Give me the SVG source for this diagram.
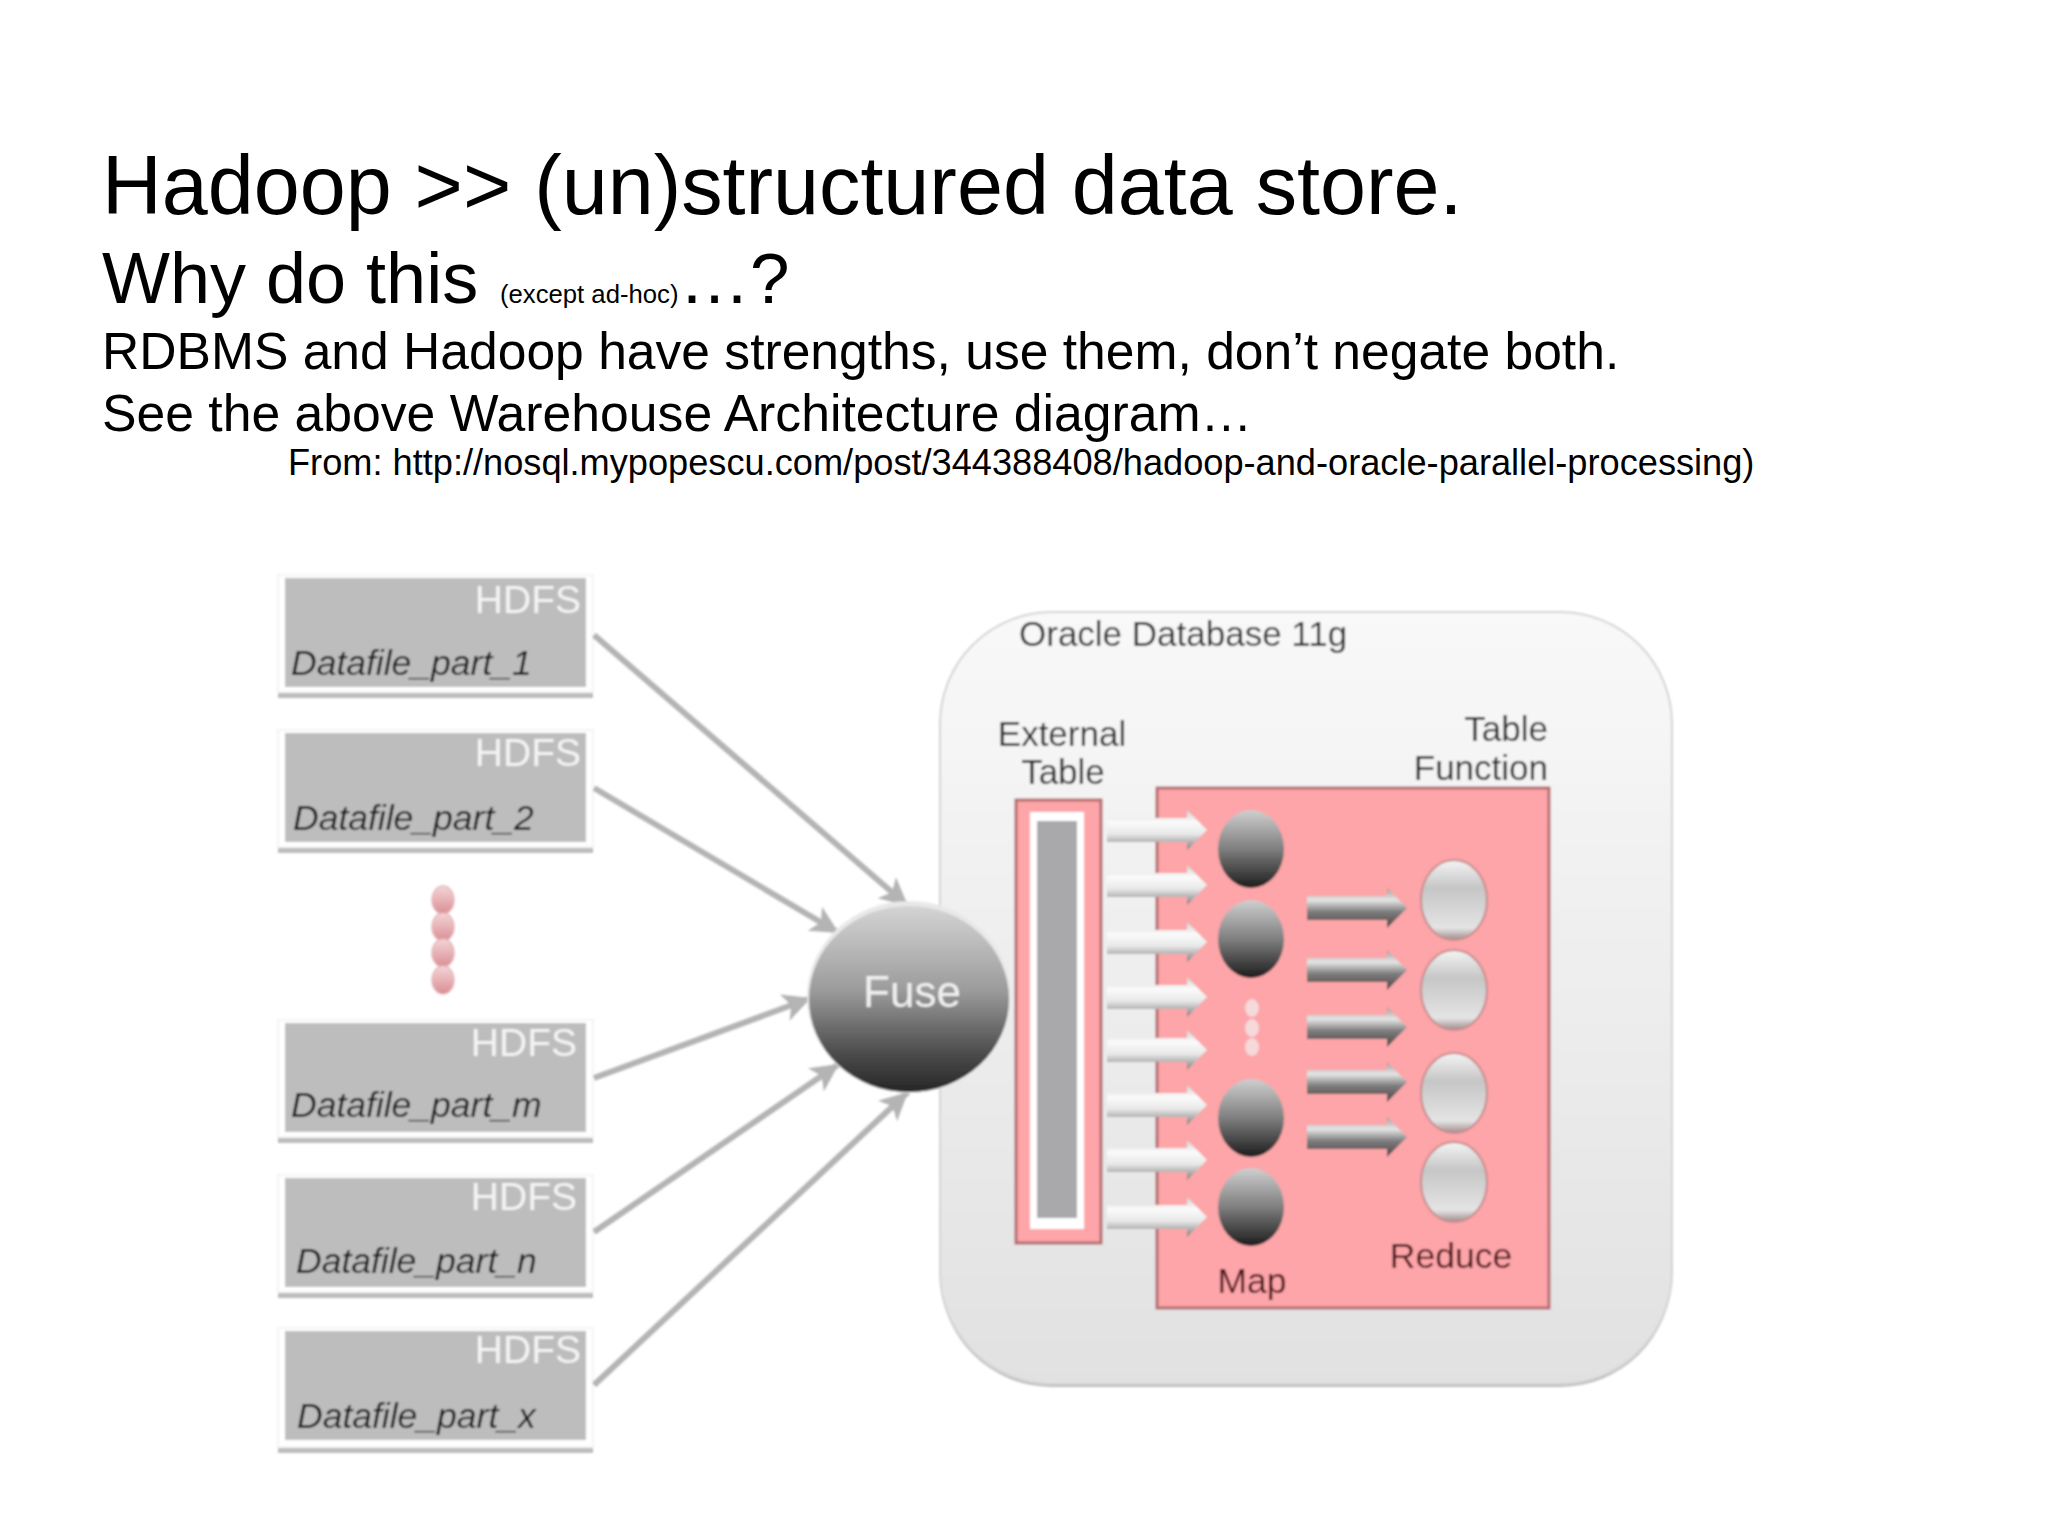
<svg xmlns="http://www.w3.org/2000/svg" xmlns:xlink="http://www.w3.org/1999/xlink" width="2048" height="1535" viewBox="0 0 2048 1535">
<style>
text{font-family:"Liberation Sans",Arial,sans-serif}
.slide{fill:#000}
.gbox{fill:#bdbdbd}
.wbox{fill:#fff;stroke:#f4f4f4;stroke-width:2}
.shadow{fill:#bcbcbc}
.hdfs{fill:#f4f4f4;font-size:39px;text-anchor:end}
.df{fill:#111;font-size:35.500px;font-style:italic}
.lbl{fill:#262626;font-size:35px}
.mid{text-anchor:middle}
.end{text-anchor:end}
.dark{fill:#480d13;font-size:35.500px}
.conn{stroke:#b4b4b4;stroke-width:6;fill:none;marker-end:url(#head)}
.soft{filter:url(#soft)}
</style>
<defs>
<filter id="soft" x="-5%" y="-5%" width="110%" height="110%"><feGaussianBlur stdDeviation="0.9"/></filter>
<marker id="head" markerUnits="userSpaceOnUse" markerWidth="34" markerHeight="34" refX="30" refY="17" orient="auto">
<polygon points="2,3 30,17 2,31 9,17" fill="#b4b4b4"/>
</marker>
<linearGradient id="dbbg" x1="0" y1="0" x2="0" y2="1"><stop offset="0" stop-color="#f9f9f9"/><stop offset="1" stop-color="#e1e1e1"/></linearGradient>
<linearGradient id="fuse" x1="0" y1="0" x2="0" y2="1"><stop offset="0" stop-color="#d4d4d4"/><stop offset=".45" stop-color="#9c9c9c"/><stop offset=".8" stop-color="#4a4a4a"/><stop offset="1" stop-color="#262626"/></linearGradient>
<linearGradient id="map" x1="0" y1="0" x2="0" y2="1"><stop offset="0" stop-color="#cfcfcf"/><stop offset=".5" stop-color="#7f7f7f"/><stop offset="1" stop-color="#1c1c1c"/></linearGradient>
<linearGradient id="red" x1="0" y1="0" x2="0" y2="1"><stop offset="0" stop-color="#f4f4f4"/><stop offset=".35" stop-color="#c6c6c6"/><stop offset=".85" stop-color="#e4e4e4"/><stop offset="1" stop-color="#a08a8a"/></linearGradient>
<linearGradient id="dot" x1="0" y1="0" x2="0" y2="1"><stop offset="0" stop-color="#f3d6d8"/><stop offset="1" stop-color="#d98d93"/></linearGradient>
<linearGradient id="wa" x1="0" y1="0" x2="0" y2="1"><stop offset="0" stop-color="#cfcfcf"/><stop offset=".3" stop-color="#fbfbfb"/><stop offset=".6" stop-color="#e8e8e8"/><stop offset="1" stop-color="#7c7c7c"/></linearGradient>
<linearGradient id="ga" x1="0" y1="0" x2="0" y2="1"><stop offset="0" stop-color="#9a9a9a"/><stop offset=".3" stop-color="#e6e6e6"/><stop offset=".6" stop-color="#7c7c7c"/><stop offset="1" stop-color="#4e4444"/></linearGradient>
<polygon id="wArrow" points="0,-12 80,-12 80,-20 100,0 80,20 80,12 0,12" fill="url(#wa)"/>
<polygon id="gArrow" points="0,-12 80,-12 80,-20 100,0 80,20 80,12 0,12" fill="url(#ga)"/>
<ellipse id="mapE" rx="33" ry="39" fill="url(#map)"/>
<ellipse id="redE" rx="33" ry="40" fill="url(#red)" stroke="#c88b8e" stroke-width="2"/>
</defs>
<rect width="2048" height="1535" fill="#fff"/>
<g id="slide-text" class="slide">
<text x="102" y="214" font-size="82.700">Hadoop &gt;&gt; (un)structured data store.</text>
<text x="102" y="303" font-size="72">Why do this</text>
<text x="500" y="303" font-size="25.700">(except ad-hoc)</text>
<text x="679" y="303" font-size="71">…?</text>
<text x="102" y="369" font-size="51.600">RDBMS and Hadoop have strengths, use them, don’t negate both.</text>
<text x="102" y="431" font-size="51.700">See the above Warehouse Architecture diagram…</text>
<text x="288" y="475" font-size="36.200">From: http://nosql.mypopescu.com/post/344388408/hadoop-and-oracle-parallel-processing)</text>
</g>
<g class="soft">
<g id="oracle-db">
<rect x="940" y="617" width="732" height="770" rx="112" fill="#bcbcbc"/>
<rect x="940" y="612" width="732" height="772" rx="112" fill="url(#dbbg)" stroke="#d4d4d4" stroke-width="2"/>
<text class="lbl" x="1019" y="646">Oracle Database 11g</text>
</g>
<g id="table-function">
<rect x="1157" y="788" width="392" height="520" fill="#fda5a8" stroke="#b56c70" stroke-width="3"/>
<text class="lbl end" x="1548" y="741">Table</text>
<text class="lbl end" x="1548" y="780">Function</text>
</g>
<g id="external-table">
<rect x="1016" y="800" width="85" height="443" fill="#fda5a8" stroke="#b56c70" stroke-width="3"/>
<rect x="1030" y="812" width="54" height="417" fill="#fff"/>
<rect x="1037" y="821" width="40" height="397" fill="#a9a9ab"/>
<text class="lbl mid" x="1062" y="746">External</text>
<text class="lbl mid" x="1063" y="784">Table</text>
</g>
<g id="box-1"><rect class="shadow" x="278" y="690" width="315" height="8"/><rect class="wbox" x="278" y="575" width="315" height="117"/><rect class="gbox" x="285" y="578" width="301" height="109"/><text class="hdfs" x="581" y="613">HDFS</text><text class="df" x="291" y="675">Datafile_part_1</text></g>
<g id="box-2"><rect class="shadow" x="278" y="845" width="315" height="8"/><rect class="wbox" x="278" y="730" width="315" height="117"/><rect class="gbox" x="285" y="733" width="301" height="109"/><text class="hdfs" x="581" y="766">HDFS</text><text class="df" x="293" y="830">Datafile_part_2</text></g>
<g id="box-m"><rect class="shadow" x="278" y="1135" width="315" height="8"/><rect class="wbox" x="278" y="1020" width="315" height="117"/><rect class="gbox" x="285" y="1023" width="301" height="109"/><text class="hdfs" x="577" y="1056">HDFS</text><text class="df" x="291" y="1117">Datafile_part_m</text></g>
<g id="box-n"><rect class="shadow" x="278" y="1290" width="315" height="8"/><rect class="wbox" x="278" y="1175" width="315" height="117"/><rect class="gbox" x="285" y="1178" width="301" height="109"/><text class="hdfs" x="577" y="1210">HDFS</text><text class="df" x="296" y="1273">Datafile_part_n</text></g>
<g id="box-x"><rect class="shadow" x="278" y="1445" width="315" height="8"/><rect class="wbox" x="278" y="1328" width="315" height="119"/><rect class="gbox" x="285" y="1331" width="301" height="109"/><text class="hdfs" x="581" y="1363">HDFS</text><text class="df" x="297" y="1428">Datafile_part_x</text></g>
<g id="ellipsis-dots" fill="url(#dot)" stroke="#e8b8bb" stroke-width="1.500">
<ellipse cx="443" cy="900" rx="11" ry="14"/><ellipse cx="443" cy="927" rx="11" ry="14"/><ellipse cx="443" cy="953" rx="11" ry="14"/><ellipse cx="443" cy="980" rx="11" ry="14"/>
</g>
<g id="connectors">
<line class="conn" x1="594" y1="635" x2="908" y2="906"/>
<line class="conn" x1="594" y1="788" x2="839" y2="933"/>
<line class="conn" x1="594" y1="1078" x2="811" y2="998"/>
<line class="conn" x1="594" y1="1232" x2="839" y2="1064"/>
<line class="conn" x1="594" y1="1385" x2="908" y2="1092"/>
<g id="external-arrows">
<use xlink:href="#wArrow" href="#wArrow" x="1107" y="830"/>
<use xlink:href="#wArrow" href="#wArrow" x="1107" y="885"/>
<use xlink:href="#wArrow" href="#wArrow" x="1107" y="942"/>
<use xlink:href="#wArrow" href="#wArrow" x="1107" y="997"/>
<use xlink:href="#wArrow" href="#wArrow" x="1107" y="1050"/>
<use xlink:href="#wArrow" href="#wArrow" x="1107" y="1105"/>
<use xlink:href="#wArrow" href="#wArrow" x="1107" y="1160"/>
<use xlink:href="#wArrow" href="#wArrow" x="1107" y="1217"/>
</g>
<g id="shuffle-arrows">
<use xlink:href="#gArrow" href="#gArrow" x="1307" y="908"/>
<use xlink:href="#gArrow" href="#gArrow" x="1307" y="970"/>
<use xlink:href="#gArrow" href="#gArrow" x="1307" y="1027"/>
<use xlink:href="#gArrow" href="#gArrow" x="1307" y="1082"/>
<use xlink:href="#gArrow" href="#gArrow" x="1307" y="1137"/>
</g>
</g>
<g id="fuse-node">
<ellipse cx="909" cy="997" rx="102" ry="96" fill="#e8e8e8"/>
<ellipse cx="909" cy="999" rx="100" ry="93" fill="url(#fuse)"/>
<text x="912" y="1007" font-size="44" fill="#f0f0f0" text-anchor="middle">Fuse</text>
</g>
<g id="map-nodes">
<use xlink:href="#mapE" href="#mapE" x="1251" y="849"/>
<use xlink:href="#mapE" href="#mapE" x="1251" y="939"/>
<use xlink:href="#mapE" href="#mapE" x="1251" y="1118"/>
<use xlink:href="#mapE" href="#mapE" x="1251" y="1207"/>
<g fill="#f6d9da"><ellipse cx="1252" cy="1008" rx="7" ry="9"/><ellipse cx="1252" cy="1028" rx="7" ry="9"/><ellipse cx="1252" cy="1047" rx="7" ry="9"/></g>
<text class="dark mid" x="1252" y="1293">Map</text>
</g>
<g id="reduce-nodes">
<use xlink:href="#redE" href="#redE" x="1454" y="900"/>
<use xlink:href="#redE" href="#redE" x="1454" y="990"/>
<use xlink:href="#redE" href="#redE" x="1454" y="1093"/>
<use xlink:href="#redE" href="#redE" x="1454" y="1182"/>
<text class="dark mid" x="1451" y="1268">Reduce</text>
</g>
</g>
</svg>
